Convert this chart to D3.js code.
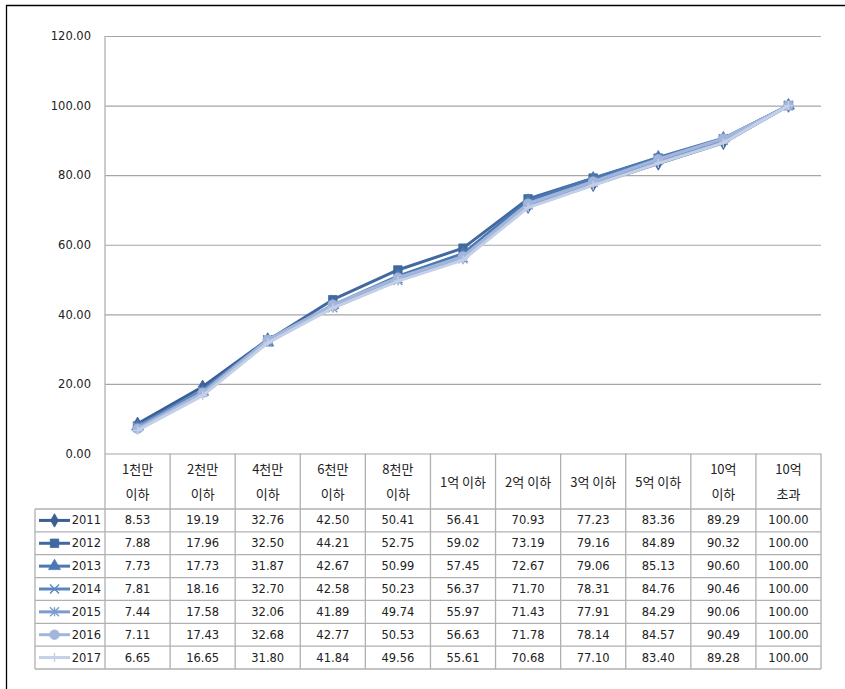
<!DOCTYPE html>
<html>
<head>
<meta charset="utf-8">
<script src="https://cdn.jsdelivr.net/npm/d3@7"></script>
<style>
  html, body { margin: 0; padding: 0; background: #fff; }
  svg { display: block; }
  .num { font-family: "DejaVu Sans", Verdana, sans-serif; font-size: 11.5px; fill: #222; }
  .kor { font-family: "Noto Sans CJK KR", "Noto Sans", sans-serif; font-size: 13px; fill: #222; }
</style>
</head>
<body>
<svg id="chart" width="845" height="689"></svg>
<script>
// Cumulative share by income bracket (%), 2011–2017
const categories = ["1천만 이하", "2천만 이하", "4천만 이하", "6천만 이하", "8천만 이하",
                    "1억 이하", "2억 이하", "3억 이하", "5억 이하", "10억 이하", "10억 초과"];
// header labels as they wrap inside the table cells
const headerLines = [["1천만", "이하"], ["2천만", "이하"], ["4천만", "이하"], ["6천만", "이하"], ["8천만", "이하"],
                     ["1억 이하"], ["2억 이하"], ["3억 이하"], ["5억 이하"], ["10억", "이하"], ["10억", "초과"]];
const years = ["2011", "2012", "2013", "2014", "2015", "2016", "2017"];
const v2011 = [8.53, 19.19, 32.76, 42.50, 50.41, 56.41, 70.93, 77.23, 83.36, 89.29, 100.00];
const v2012 = [7.88, 17.96, 32.50, 44.21, 52.75, 59.02, 73.19, 79.16, 84.89, 90.32, 100.00];
const v2013 = [7.73, 17.73, 31.87, 42.67, 50.99, 57.45, 72.67, 79.06, 85.13, 90.60, 100.00];
const v2014 = [7.81, 18.16, 32.70, 42.58, 50.23, 56.37, 71.70, 78.31, 84.76, 90.46, 100.00];
const v2015 = [7.44, 17.58, 32.06, 41.89, 49.74, 55.97, 71.43, 77.91, 84.29, 90.06, 100.00];
const v2016 = [7.11, 17.43, 32.68, 42.77, 50.53, 56.63, 71.78, 78.14, 84.57, 90.49, 100.00];
const v2017 = [6.65, 16.65, 31.80, 41.84, 49.56, 55.61, 70.68, 77.10, 83.40, 89.28, 100.00];
const yTicks = [0, 20, 40, 60, 80, 100, 120];

const seriesValues = [v2011, v2012, v2013, v2014, v2015, v2016, v2017];
const colors = ["#3b5f94", "#41699f", "#4b78b2", "#5a86c0", "#7e9bcd", "#a2b5db", "#c4d0e7"];
const markers = ["diamond", "square", "triangle", "x", "star", "circle", "plus"];

const svg = d3.select("#chart");

// outer frame (runs past the right and bottom edges)
svg.append("path").attr("d", "M6.5,689 V5.5 H845")
  .attr("fill", "none").attr("stroke", "#000").attr("stroke-width", 1.3);

const plotLeft = 105, plotRight = 821, plotTop = 36, plotBottom = 453.5;
const x = d3.scaleBand().domain(categories).range([plotLeft, plotRight]).padding(0);
const y = d3.scaleLinear().domain([0, 120]).range([plotBottom, plotTop]);
const cx = c => x(c) + x.bandwidth() / 2;

// horizontal gridlines + y labels
const yAxis = d3.axisLeft(y).tickValues(yTicks).tickFormat(d3.format(".2f"))
  .tickSize(-(plotRight - plotLeft)).tickPadding(14);
const gy = svg.append("g").attr("transform", `translate(${plotLeft},0)`).call(yAxis);
gy.select(".domain").remove();
gy.selectAll(".tick line").attr("stroke", "#a6a6a6").attr("stroke-width", 1.2);
gy.selectAll(".tick text").attr("class", "num").attr("font-size", null).attr("font-family", null);
gy.attr("font-size", null).attr("font-family", null);

// data table geometry
const headerTop = plotBottom, headerBottom = 509;
const rowH = (669 - headerBottom) / years.length;
const legendLeft = 35;
const gridColor = "#b0b0b0";
const tableBottom = headerBottom + rowH * years.length;

const table = svg.append("g");
// vertical axis line through plot and table
table.append("line").attr("x1", plotLeft).attr("x2", plotLeft).attr("y1", plotTop).attr("y2", tableBottom)
  .attr("stroke", gridColor).attr("stroke-width", 1.3);
// column separators
categories.forEach(c => {
  const xr = x(c) + x.bandwidth();
  table.append("line").attr("x1", xr).attr("x2", xr).attr("y1", headerTop).attr("y2", tableBottom)
    .attr("stroke", gridColor).attr("stroke-width", 1.3);
});
// horizontal row lines
d3.range(years.length + 1).forEach(i => {
  const yy = headerBottom + i * rowH;
  table.append("line").attr("x1", legendLeft).attr("x2", plotRight).attr("y1", yy).attr("y2", yy)
    .attr("stroke", gridColor).attr("stroke-width", 1.3);
});
table.append("line").attr("x1", legendLeft).attr("x2", legendLeft)
  .attr("y1", headerBottom).attr("y2", tableBottom)
  .attr("stroke", gridColor).attr("stroke-width", 1.3);

// header labels
categories.forEach((c, i) => {
  const lines = headerLines[i];
  const mid = (headerTop + headerBottom) / 2;
  lines.forEach((t, k) => {
    const yy = lines.length === 1 ? mid : mid + (k === 0 ? -12.5 : 12.5);
    table.append("text").attr("class", "kor").attr("x", cx(c)).attr("y", yy)
      .attr("text-anchor", "middle").attr("dominant-baseline", "central").text(t);
  });
});

// marker drawing helper
function drawMarker(g, type, px, py, color, s) {
  const sym = {
    diamond: d3.symbolDiamond, square: d3.symbolSquare, triangle: d3.symbolTriangle,
    circle: d3.symbolCircle
  }[type];
  if (sym) {
    const size = { diamond: 52, square: 72, triangle: 62, circle: 72 }[type] * s;
    g.append("path").attr("d", d3.symbol(sym, size)()).attr("transform", `translate(${px},${py})`)
      .attr("fill", color).attr("stroke", color).attr("stroke-width", 0.8);
  } else {
    const r = 4.5 * Math.sqrt(s);
    let d;
    if (type === "x") d = `M${-r},${-r}L${r},${r}M${-r},${r}L${r},${-r}`;
    else if (type === "star") d = `M${-r},${-r}L${r},${r}M${-r},${r}L${r},${-r}M0,${-r}V${r}`;
    else d = `M${-r},0H${r}M0,${-r}V${r}`;
    g.append("path").attr("d", d).attr("transform", `translate(${px},${py})`)
      .attr("fill", "none").attr("stroke", color).attr("stroke-width", 1.4);
  }
}

// lines and markers
const line = d3.line().x((d, i) => cx(categories[i])).y(d => y(d));
seriesValues.forEach((vals, si) => {
  const g = svg.append("g");
  g.append("path").datum(vals).attr("d", line)
    .attr("fill", "none").attr("stroke", colors[si]).attr("stroke-width", 3).attr("stroke-linejoin", "round");
  vals.forEach((v, i) => drawMarker(g, markers[si], cx(categories[i]), y(v), colors[si], 1));
});

// table rows: legend keys and values
years.forEach((yr, si) => {
  const rc = headerBottom + (si + 0.5) * rowH;
  const g = svg.append("g");
  g.append("line").attr("x1", 39).attr("x2", 70).attr("y1", rc).attr("y2", rc)
    .attr("stroke", colors[si]).attr("stroke-width", 3);
  drawMarker(g, markers[si], 54.5, rc, colors[si], 1);
  g.append("text").attr("class", "num").attr("x", 101).attr("y", rc)
    .attr("text-anchor", "end").attr("dominant-baseline", "central").text(yr);
  seriesValues[si].forEach((v, i) => {
    g.append("text").attr("class", "num").attr("x", cx(categories[i])).attr("y", rc)
      .attr("text-anchor", "middle").attr("dominant-baseline", "central").text(d3.format(".2f")(v));
  });
});
</script>
</body>
</html>
